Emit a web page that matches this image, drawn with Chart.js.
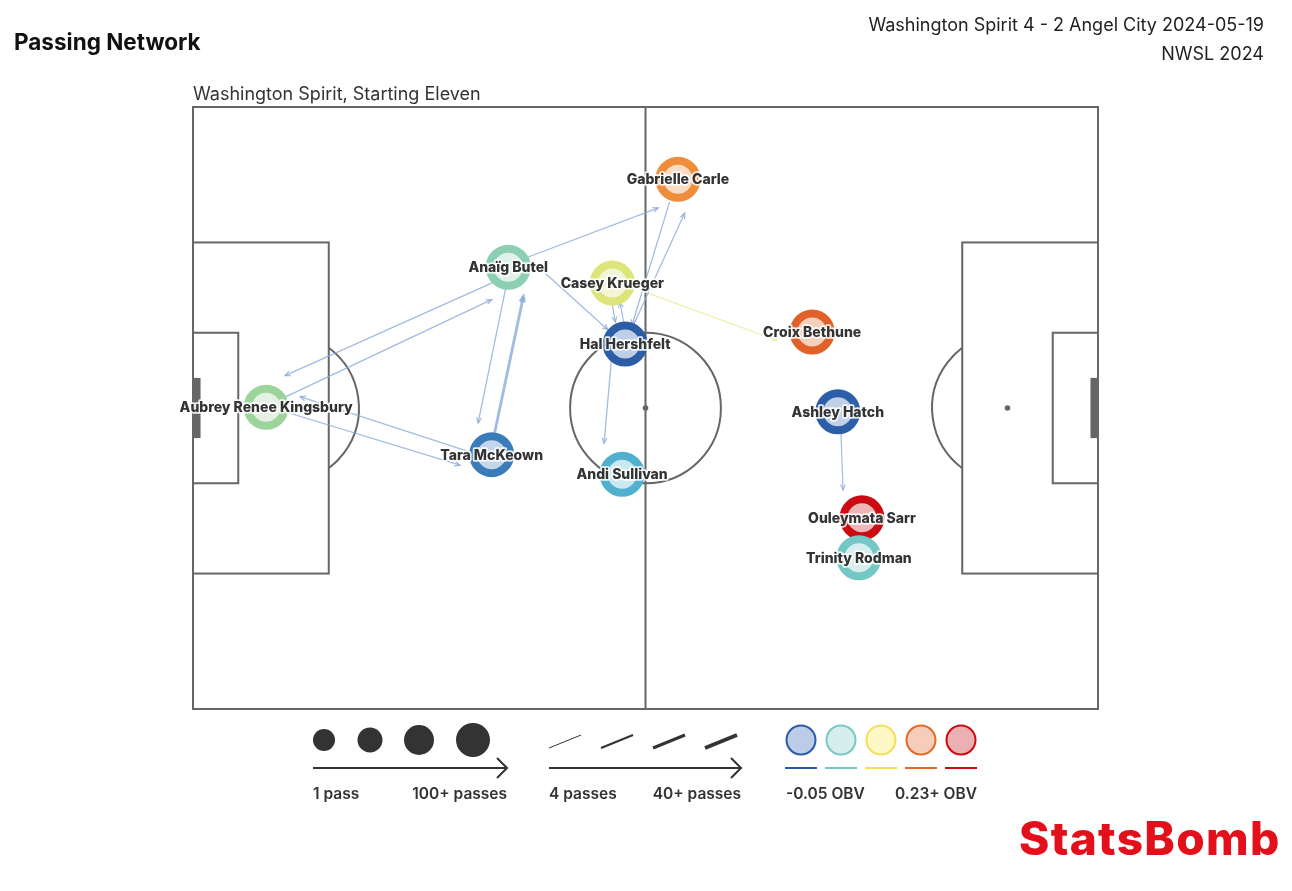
<!DOCTYPE html>
<html>
<head>
<meta charset="utf-8">
<script src="https://cdn.jsdelivr.net/npm/chart.js@4.4.1/dist/chart.umd.min.js"></script>
<style>
  body { margin: 0; background: #fff; }
  #wrap { position: relative; width: 1292px; height: 891px; font-family: Inter, "Noto Sans", sans-serif; color: #222; }
  .txt { position: absolute; line-height: 1; white-space: nowrap; }
</style>
</head>
<body>
<div id="wrap">
  <canvas id="myChart" width="1292" height="891"></canvas>
  <div class="txt" style="left:14px;top:31px;font-size:22.5px;font-weight:700;color:#111">Passing Network</div>
  <div class="txt" style="right:28px;top:16px;font-size:18px;text-align:right">Washington Spirit 4 - 2 Angel City 2024-05-19</div>
  <div class="txt" style="right:28px;top:45px;font-size:18px;text-align:right">NWSL 2024</div>
  <div class="txt" style="left:193px;top:85px;font-size:18px;color:#333">Washington Spirit, Starting Eleven</div>
  <div class="txt" style="left:1019px;top:815px;font-size:46px;font-weight:800;color:#e3101b;letter-spacing:1.3px">StatsBomb</div>
</div>
<script>
const ctx = document.getElementById('myChart');

// players, average positions on a 120 x 80 pitch
var players = ['Aubrey Renee Kingsbury', 'Anaïg Butel', 'Casey Krueger', 'Gabrielle Carle', 'Hal Hershfelt',
  'Croix Bethune', 'Tara McKeown', 'Andi Sullivan', 'Ashley Hatch', 'Ouleymata Sarr', 'Trinity Rodman']
var playerX = [9.7, 41.8, 55.6, 64.3, 57.3, 82.1, 39.6, 56.9, 85.5, 88.7, 88.3]
var playerY = [39.9, 21.3, 23.4, 9.6, 31.5, 29.9, 46.2, 48.8, 40.5, 54.6, 59.9]

// passes between players (from -> to), count and drawn segment on the pitch
var passFrom = ['Anaïg Butel', 'Aubrey Renee Kingsbury', 'Tara McKeown', 'Aubrey Renee Kingsbury', 'Anaïg Butel',
  'Tara McKeown', 'Anaïg Butel', 'Gabrielle Carle', 'Hal Hershfelt', 'Anaïg Butel', 'Casey Krueger',
  'Hal Hershfelt', 'Hal Hershfelt', 'Casey Krueger', 'Ashley Hatch']
var passTo = ['Aubrey Renee Kingsbury', 'Anaïg Butel', 'Aubrey Renee Kingsbury', 'Tara McKeown', 'Tara McKeown',
  'Anaïg Butel', 'Gabrielle Carle', 'Hal Hershfelt', 'Gabrielle Carle', 'Hal Hershfelt', 'Hal Hershfelt',
  'Casey Krueger', 'Andi Sullivan', 'Croix Bethune', 'Ouleymata Sarr']
var passCount = [5, 6, 5, 5, 5, 25, 5, 5, 5, 5, 4, 4, 5, 4, 4]
var passX0 = [40.7, 11.5, 37.8, 12.2, 41.6, 40.0, 42.7, 63.2, 58.3, 46.7, 55.3, 57.1, 55.6, 60.2, 85.9]
var passY0 = [22.9, 38.9, 46.2, 40.5, 23.4, 43.3, 20.6, 12.6, 29.2, 22.1, 24.6, 28.6, 32.3, 24.7, 42.9]
var passX1 = [12.2, 39.6, 14.2, 35.4, 37.8, 43.8, 61.7, 58.2, 65.2, 55.0, 56.0, 56.6, 54.5, 77.4, 86.2]
var passY1 = [35.7, 25.6, 38.5, 47.6, 42.0, 25.2, 13.4, 29.0, 14.1, 29.6, 28.6, 25.9, 44.7, 31.0, 50.9]

// legend texts
var sizeLabels = ['1 pass', '100+ passes']
var widthLabels = ['4 passes', '40+ passes']
var obvLabels = ['-0.05 OBV', '0.23+ OBV']

// styles
var ringColor = {
  'Aubrey Renee Kingsbury': '#9dd49a', 'Anaïg Butel': '#8ccfb2', 'Casey Krueger': '#dde47a',
  'Gabrielle Carle': '#f08d3b', 'Hal Hershfelt': '#2c5da7', 'Croix Bethune': '#e0622a',
  'Tara McKeown': '#3a7bb9', 'Andi Sullivan': '#4fb1ce', 'Ashley Hatch': '#2d5fa8',
  'Ouleymata Sarr': '#cc0a12', 'Trinity Rodman': '#73c8c6'
}
var fillColor = {
  'Aubrey Renee Kingsbury': '#e3f2e2', 'Anaïg Butel': '#dff1e8', 'Casey Krueger': '#f2f5d6',
  'Gabrielle Carle': '#f9dcc4', 'Hal Hershfelt': '#bdd0e8', 'Croix Bethune': '#f5d0bd',
  'Tara McKeown': '#c3d6ea', 'Andi Sullivan': '#cbe8f1', 'Ashley Hatch': '#bfd0e7',
  'Ouleymata Sarr': '#efb6b8', 'Trinity Rodman': '#d6efee'
}
var passLineColor = {'Casey Krueger': 'rgba(236,236,160,0.9)'}
var lineGrey = '#666'
var legendDark = '#333'
var obvRing = ['#2a5ba7', '#78c9c6', '#f3df5a', '#e06a2a', '#cc0a12']
var obvFill = ['#bccce6', '#d6efed', '#fef8c6', '#f6cdb8', '#eab0b2']

function passWidth(n) {
  return 1.2 + 2.8 * Math.min(Math.max(n - 4, 0), 36) / 36
}

var datasets = []
datasets.push({
  type: 'scatter',
  order: 0,
  data: players.map((p, i) => ({x: playerX[i], y: playerY[i]})),
  pointRadius: 18.5,
  pointHoverRadius: 18.5,
  borderWidth: 8,
  pointBorderColor: players.map(p => ringColor[p]),
  pointBackgroundColor: players.map(p => fillColor[p]),
  pointBorderWidth: 8,
  pointHoverBorderWidth: 8
})
for (var i = 0; i < passFrom.length; i++) {
  var col = passLineColor[passFrom[i]] && passTo[i] == 'Croix Bethune' ? passLineColor[passFrom[i]] : 'rgba(140,170,215,0.8)'
  datasets.push({
    type: 'line',
    order: 1,
    isPass: true,
    data: [{x: passX0[i], y: passY0[i]}, {x: passX1[i], y: passY1[i]}],
    borderColor: col,
    borderWidth: passWidth(passCount[i]),
    pointRadius: 0,
    fill: false
  })
}

// pitch markings, drawn with the chart scales
const pitchPlugin = {
  id: 'pitch',
  beforeDatasetsDraw(chart) {
    const c = chart.ctx, xs = chart.scales.x, ys = chart.scales.y
    const px = v => xs.getPixelForValue(v), py = v => ys.getPixelForValue(v)
    c.save()
    c.strokeStyle = lineGrey
    c.fillStyle = lineGrey
    c.lineWidth = 2
    const rect = (x0, y0, x1, y1) => c.strokeRect(px(x0), py(y0), px(x1) - px(x0), py(y1) - py(y0))
    rect(0, 0, 120, 80)
    c.beginPath(); c.moveTo(px(60), py(0)); c.lineTo(px(60), py(80)); c.stroke()
    rect(0, 18, 18, 62); rect(102, 18, 120, 62)
    rect(0, 30, 6, 50); rect(114, 30, 120, 50)
    const rx = px(10) - px(0), ry = py(10) - py(0)
    c.beginPath(); c.ellipse(px(60), py(40), rx, ry, 0, 0, Math.PI * 2); c.stroke()
    const a = Math.acos(6 / 10)
    c.beginPath(); c.ellipse(px(12), py(40), rx, ry, 0, -a, a); c.stroke()
    c.beginPath(); c.ellipse(px(108), py(40), rx, ry, 0, Math.PI - a, Math.PI + a); c.stroke()
    for (const sx of [12, 60, 108]) {
      c.beginPath(); c.arc(px(sx), py(40), 2.8, 0, Math.PI * 2); c.fill()
    }
    c.fillRect(px(0), py(36), px(1) - px(0), py(44) - py(36))
    c.fillRect(px(119), py(36), px(120) - px(119), py(44) - py(36))
    c.restore()
  },
  afterDatasetDraw(chart, args) {
    const ds = chart.data.datasets[args.index]
    if (!ds.isPass) return
    const pts = args.meta.data
    const x0 = pts[0].x, y0 = pts[0].y, x1 = pts[1].x, y1 = pts[1].y
    const ang = Math.atan2(y1 - y0, x1 - x0), L = 6, w = 0.4
    const c = chart.ctx
    c.save()
    c.strokeStyle = ds.borderColor
    c.lineWidth = ds.borderWidth
    c.beginPath()
    c.moveTo(x1 - L * Math.cos(ang - w), y1 - L * Math.sin(ang - w))
    c.lineTo(x1, y1)
    c.lineTo(x1 - L * Math.cos(ang + w), y1 - L * Math.sin(ang + w))
    c.stroke()
    c.restore()
  },
  afterDatasetsDraw(chart) {
    const c = chart.ctx
    const meta = chart.getDatasetMeta(0)
    c.save()
    c.font = '800 14px Inter, "Noto Sans", sans-serif'
    c.textAlign = 'center'
    c.textBaseline = 'middle'
    c.lineJoin = 'round'
    meta.data.forEach((pt, i) => {
      c.strokeStyle = 'rgba(255,255,255,0.85)'
      c.lineWidth = 3.5
      c.strokeText(players[i], pt.x, pt.y + 1)
      c.fillStyle = '#333'
      c.fillText(players[i], pt.x, pt.y + 1)
    })
    c.restore()
  }
}

// legend under the pitch
const legendPlugin = {
  id: 'sbLegend',
  afterDraw(chart) {
    const c = chart.ctx
    c.save()
    c.fillStyle = legendDark
    c.strokeStyle = legendDark
    // node size
    var sx = [324, 370, 419, 473], sr = [11, 12.5, 15, 17]
    for (var k = 0; k < 4; k++) {
      c.beginPath(); c.arc(sx[k], 740, sr[k], 0, Math.PI * 2); c.fill()
    }
    arrow(c, 313, 507, 768)
    // line widths
    for (var k = 0; k < 4; k++) {
      c.lineWidth = 1 + k
      c.beginPath(); c.moveTo(549 + k * 52, 748); c.lineTo(581 + k * 52, 735); c.stroke()
    }
    arrow(c, 549, 741, 768)
    // obv colours
    for (var k = 0; k < 5; k++) {
      var cx = 801 + k * 40
      c.fillStyle = obvFill[k]; c.strokeStyle = obvRing[k]; c.lineWidth = 2
      c.beginPath(); c.arc(cx, 740, 14.5, 0, Math.PI * 2); c.fill(); c.stroke()
      c.beginPath(); c.moveTo(cx - 16, 768); c.lineTo(cx + 16, 768); c.stroke()
    }
    c.fillStyle = legendDark
    c.font = '600 15.5px Inter, "Noto Sans", sans-serif'
    c.textBaseline = 'middle'
    c.textAlign = 'left'
    c.fillText(sizeLabels[0], 313, 794)
    c.fillText(widthLabels[0], 549, 794)
    c.fillText(obvLabels[0], 786, 794)
    c.textAlign = 'right'
    c.fillText(sizeLabels[1], 507, 794)
    c.fillText(widthLabels[1], 741, 794)
    c.fillText(obvLabels[1], 977, 794)
    c.restore()
  }
}

function arrow(c, x0, x1, y) {
  c.strokeStyle = legendDark
  c.lineWidth = 2
  c.beginPath(); c.moveTo(x0, y); c.lineTo(x1, y); c.stroke()
  c.beginPath(); c.moveTo(x1 - 10, y - 10); c.lineTo(x1, y); c.lineTo(x1 - 10, y + 10); c.stroke()
}

var webchart = new Chart(ctx, {
  type: 'scatter',
  data: {datasets: datasets},
  plugins: [pitchPlugin, legendPlugin],
  options: {
    responsive: false,
    animation: false,
    devicePixelRatio: 1,
    layout: {padding: {left: 193, right: 194, top: 107, bottom: 182}},
    scales: {
      x: {type: 'linear', min: 0, max: 120, display: false},
      y: {type: 'linear', min: 0, max: 80, reverse: true, display: false}
    },
    plugins: {legend: {display: false}, tooltip: {enabled: false}}
  }
});
</script>
</body>
</html>
